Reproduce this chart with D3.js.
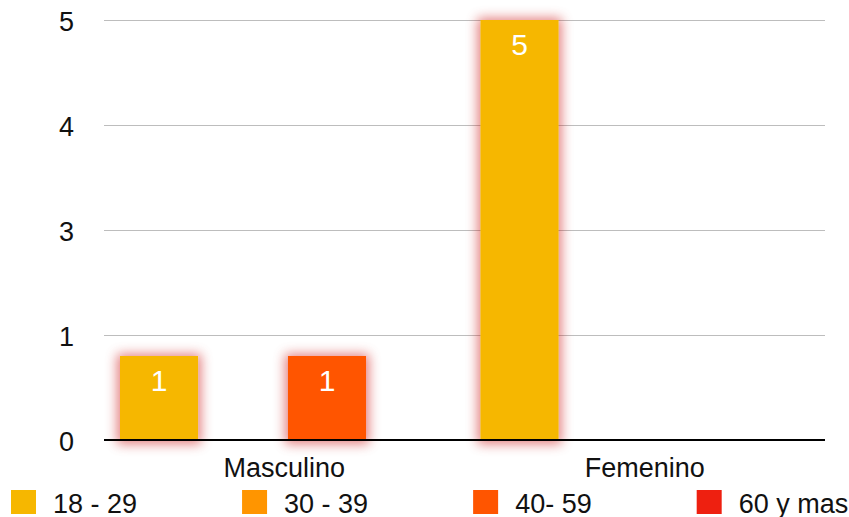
<!DOCTYPE html>
<html>
<head>
<meta charset="utf-8">
<script src="https://cdn.jsdelivr.net/npm/d3@7/dist/d3.min.js"></script>
<style>
  html, body { margin: 0; padding: 0; background: #fff; }
  svg { display: block; font-family: Helvetica, Arial, "Liberation Sans", sans-serif; }
</style>
</head>
<body>
<svg id="chart" width="849" height="517"></svg>
<script>
// Groups on the x axis
const categories = ["Masculino", "Femenino"];
// Age ranges (one bar per range inside each group)
const series = ["18 - 29", "30 - 39", "40- 59", "60 y mas"];
const seriesColors = ["#F6B700", "#FF9500", "#FF5500", "#EE2010"];
// Counts per group, in the order of `series` (null = no bar)
const masculinoValues = [1, null, 1, null];
const femeninoValues = [5, null, null, null];
// Gridline positions and the labels shown for them
const tickValues = [0, 1.25, 2.5, 3.75, 5];
const tickLabels = ["0", "1", "3", "4", "5"];

const valuesByCategory = { "Masculino": masculinoValues, "Femenino": femeninoValues };

const svg = d3.select("#chart");
const plot = { left: 104, right: 825, top: 20, bottom: 440 };
const fontSize = 27;

const x0 = d3.scaleBand().domain(categories).range([plot.left, plot.right]).padding(0);
const x1 = d3.scaleBand().domain(series)
  .range([16, x0.bandwidth() - 14.5]).paddingInner(0.071).paddingOuter(0);
const y = d3.scaleLinear().domain([0, 5]).range([plot.bottom, plot.top]);
const color = d3.scaleOrdinal().domain(series).range(seriesColors);

// Soft red glow behind bars: grow the shape, blur it, tint it
const defs = svg.append("defs");
const glow = defs.append("filter").attr("id", "glow")
  .attr("x", "-50%").attr("y", "-50%").attr("width", "200%").attr("height", "200%");
glow.append("feMorphology").attr("in", "SourceAlpha").attr("operator", "dilate")
  .attr("radius", 3).attr("result", "grown");
glow.append("feGaussianBlur").attr("in", "grown").attr("stdDeviation", 6).attr("result", "blur");
glow.append("feOffset").attr("in", "blur").attr("dy", 1).attr("result", "off");
glow.append("feFlood").attr("flood-color", "#c80000").attr("flood-opacity", 0.5).attr("result", "tint");
glow.append("feComposite").attr("in", "tint").attr("in2", "off").attr("operator", "in").attr("result", "shadow");
const merge = glow.append("feMerge");
merge.append("feMergeNode").attr("in", "shadow");
merge.append("feMergeNode").attr("in", "SourceGraphic");

// Horizontal gridlines
const yAxis = d3.axisLeft(y).tickValues(tickValues)
  .tickSize(-(plot.right - plot.left))
  .tickFormat((d, i) => tickLabels[i]);
const gy = svg.append("g").attr("transform", `translate(${plot.left},0)`).call(yAxis);
gy.select(".domain").remove();
gy.selectAll(".tick line").attr("stroke", "#bdbdbd").attr("stroke-width", 1.2)
  .attr("shape-rendering", "crispEdges");
gy.selectAll(".tick text").attr("x", -30).attr("dy", "0.38em")
  .attr("font-size", fontSize).attr("fill", "#111")
  .style("font-family", "Helvetica, Arial, 'Liberation Sans', sans-serif");
gy.selectAll(".tick").filter(d => d === 0).select("line").remove();

// Bars
const rows = [];
categories.forEach(c => {
  valuesByCategory[c].forEach((v, i) => {
    if (v != null) rows.push({ category: c, series: series[i], value: v });
  });
});

const bars = svg.append("g").selectAll("g.bar").data(rows).join("g").attr("class", "bar");
bars.append("rect")
  .attr("x", d => x0(d.category) + x1(d.series))
  .attr("y", d => y(d.value))
  .attr("width", x1.bandwidth())
  .attr("height", d => y(0) - y(d.value))
  .attr("fill", d => color(d.series))
  .attr("filter", "url(#glow)");
bars.append("text")
  .attr("x", d => x0(d.category) + x1(d.series) + x1.bandwidth() / 2)
  .attr("y", d => y(d.value) + 35)
  .attr("text-anchor", "middle")
  .attr("font-size", 30)
  .attr("fill", "#fff")
  .text(d => d.value);

// Baseline
const xAxis = d3.axisBottom(x0).tickSize(0).tickPadding(18);
const gx = svg.append("g").attr("transform", `translate(0,${y(0)})`).call(xAxis);
gx.select(".domain").attr("stroke", "#000").attr("stroke-width", 2.2)
  .attr("d", `M${plot.left},0H${plot.right}`);
gx.selectAll(".tick text").attr("font-size", fontSize).attr("fill", "#111")
  .style("font-family", "Helvetica, Arial, 'Liberation Sans', sans-serif");

// Legend along the bottom edge
const legend = svg.append("g").attr("transform", "translate(11,490)");
let lx = 0;
series.forEach((s, i) => {
  const item = legend.append("g").attr("transform", `translate(${lx},0)`);
  item.append("rect").attr("width", 25).attr("height", 24).attr("fill", seriesColors[i]);
  const t = item.append("text").attr("x", 42).attr("y", 22.5)
    .attr("font-size", fontSize).attr("fill", "#111").text(s);
  lx += 42 + t.node().getComputedTextLength() + 105;
});
</script>
</body>
</html>
